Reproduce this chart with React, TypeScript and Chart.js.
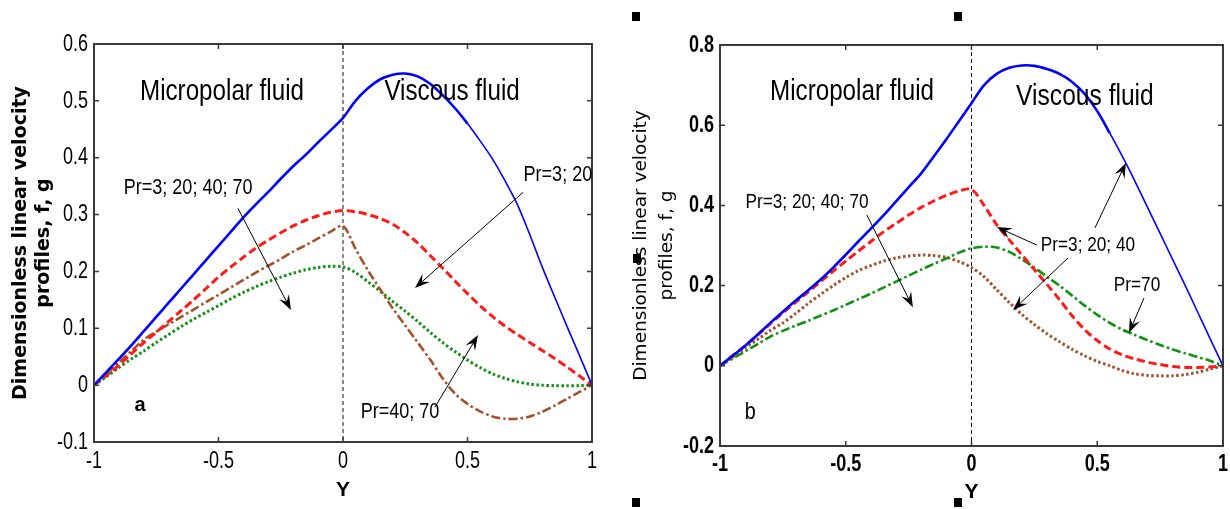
import React, { useEffect, useRef } from "react";
import { Chart, registerables } from "chart.js";

Chart.register(...registerables);

// ---------- data ----------
const X_GRID = [
  -1, -0.95, -0.9, -0.85, -0.8, -0.75, -0.7, -0.65, -0.6, -0.55, -0.5, -0.45, -0.4, -0.35, -0.3, -0.25, -0.2, -0.15, -0.1, -0.05,
  0, 0.05, 0.1, 0.15, 0.2, 0.25, 0.3, 0.35, 0.4, 0.45, 0.5, 0.55, 0.6, 0.65, 0.7, 0.75, 0.8, 0.85, 0.9, 0.95, 1,
];

// Panel a
const A_BLUE = [
  0, 0.023, 0.046, 0.07, 0.095, 0.12, 0.145, 0.17, 0.195, 0.22, 0.245, 0.27, 0.295, 0.318, 0.34, 0.363, 0.385, 0.405, 0.427, 0.448,
  0.47, 0.5, 0.522, 0.538, 0.546, 0.548, 0.543, 0.53, 0.51, 0.487, 0.46, 0.43, 0.398, 0.36, 0.318, 0.265, 0.208, 0.155, 0.103, 0.052, 0,
];
const A_RED = [
  0, 0.017, 0.035, 0.055, 0.075, 0.093, 0.112, 0.131, 0.15, 0.17, 0.19, 0.208, 0.225, 0.241, 0.255, 0.268, 0.28, 0.29, 0.298, 0.304,
  0.307, 0.305, 0.3, 0.293, 0.283, 0.268, 0.25, 0.228, 0.206, 0.183, 0.161, 0.14, 0.121, 0.104, 0.089, 0.075, 0.061, 0.047, 0.032, 0.016, 0,
];
const A_BROWN = [
  0, 0.02, 0.04, 0.06, 0.08, 0.094, 0.107, 0.12, 0.133, 0.146, 0.159, 0.172, 0.185, 0.198, 0.21, 0.222, 0.235, 0.246, 0.258, 0.27,
  0.28, 0.24, 0.202, 0.168, 0.135, 0.105, 0.075, 0.045, 0.012, -0.015, -0.033, -0.046, -0.055, -0.059, -0.059, -0.055, -0.047, -0.036, -0.024, -0.012, 0,
];
const A_GREEN = [
  0, 0.015, 0.031, 0.046, 0.06, 0.075, 0.089, 0.103, 0.116, 0.128, 0.14, 0.152, 0.163, 0.173, 0.182, 0.19, 0.197, 0.203, 0.207, 0.209,
  0.208, 0.198, 0.182, 0.165, 0.147, 0.13, 0.112, 0.093, 0.075, 0.059, 0.044, 0.031, 0.02, 0.012, 0.006, 0.002, 0, -0.001, -0.001, -0.001, 0,
];

// Panel b
const B_BLUE = [
  0, 0.025, 0.05, 0.078, 0.107, 0.135, 0.162, 0.188, 0.215, 0.245, 0.277, 0.31, 0.342, 0.375, 0.41, 0.445, 0.48, 0.522, 0.565, 0.61,
  0.655, 0.7, 0.728, 0.743, 0.749, 0.748, 0.74, 0.728, 0.708, 0.678, 0.635, 0.58, 0.522, 0.46, 0.395, 0.33, 0.265, 0.2, 0.133, 0.066, 0,
];
const B_RED = [
  0, 0.025, 0.05, 0.077, 0.105, 0.132, 0.158, 0.184, 0.21, 0.236, 0.261, 0.286, 0.31, 0.334, 0.355, 0.376, 0.395, 0.411, 0.425, 0.436,
  0.44, 0.4, 0.352, 0.314, 0.277, 0.24, 0.203, 0.165, 0.125, 0.09, 0.063, 0.042, 0.027, 0.017, 0.009, 0.003, -0.002, -0.004, -0.004, -0.003, 0,
];
const B_GREEN = [
  0, 0.018, 0.036, 0.054, 0.073, 0.087, 0.1, 0.112, 0.125, 0.138, 0.152, 0.166, 0.18, 0.195, 0.21, 0.225, 0.24, 0.254, 0.268, 0.282,
  0.293, 0.297, 0.295, 0.284, 0.266, 0.245, 0.222, 0.2, 0.175, 0.15, 0.127, 0.107, 0.09, 0.077, 0.064, 0.052, 0.041, 0.031, 0.022, 0.012, 0,
];
const B_BROWN = [
  0, 0.022, 0.045, 0.066, 0.088, 0.107, 0.13, 0.155, 0.178, 0.2, 0.22, 0.237, 0.25, 0.261, 0.269, 0.274, 0.276, 0.275, 0.27, 0.26,
  0.245, 0.222, 0.19, 0.158, 0.128, 0.103, 0.08, 0.06, 0.041, 0.025, 0.011, 0.0, -0.012, -0.02, -0.024, -0.025, -0.025, -0.022, -0.016, -0.008, 0,
];

const X_TITLE = "Y";
const Y_TITLE = ["Dimensionless linear velocity", "profiles, f, g"];

// annotations (data coordinates)
const A_TEXTS = [
  { text: "Micropolar fluid", x: -0.486, y: 0.515, size: 29.5, bold: false },
  { text: "Viscous fluid", x: 0.438, y: 0.515, size: 29.5, bold: false },
  { text: "Pr=3; 20; 40; 70", x: -0.622, y: 0.346, size: 22, bold: false },
  { text: "Pr=3; 20", x: 0.863, y: 0.369, size: 22, bold: false },
  { text: "Pr=40; 70", x: 0.229, y: -0.047, size: 22, bold: false },
  { text: "a", x: -0.815, y: -0.035, size: 20, bold: true, wide: true },
];
const A_ARROWS = [
  [-0.422, 0.311, -0.209, 0.132],
  [0.723, 0.339, 0.289, 0.171],
  [0.369, -0.039, 0.542, 0.088],
];
const B_TEXTS = [
  { text: "Micropolar fluid", x: -0.475, y: 0.683, size: 29.5, bold: false },
  { text: "Viscous fluid", x: 0.451, y: 0.67, size: 30, bold: false },
  { text: "Pr=3; 20; 40; 70", x: -0.654, y: 0.408, size: 21, bold: false },
  { text: "Pr=3; 20; 40", x: 0.463, y: 0.301, size: 21, bold: false },
  { text: "Pr=70", x: 0.658, y: 0.201, size: 21, bold: false },
  { text: "b", x: -0.88, y: -0.115, size: 24, bold: false },
];
const B_ARROWS = [
  [-0.416, 0.376, -0.233, 0.146],
  [0.26, 0.301, 0.101, 0.346],
  [0.384, 0.269, 0.165, 0.139],
  [0.491, 0.344, 0.614, 0.506],
  [0.686, 0.169, 0.626, 0.082],
];

const SANS = '"Liberation Sans", Arial, sans-serif';
const CONDENSE = 0.82; // horizontal squeeze to mimic a narrow face

const BLUE = "#0000ff";
const RED = "#ff1a1a";
const GREEN = "#119111";
const BROWN = "#a2522a";

function fmt(v: number) {
  const r = Math.round(v * 100) / 100;
  return r === 0 ? "0" : String(r);
}

function condensedText(
  ctx: CanvasRenderingContext2D,
  text: string,
  x: number,
  y: number,
  align: CanvasTextAlign,
  sx: number,
  sy: number
) {
  ctx.save();
  ctx.translate(x, y);
  ctx.scale(sx, sy);
  ctx.textAlign = align;
  ctx.textBaseline = "middle";
  ctx.fillText(text, 0, 0);
  ctx.restore();
}

function drawArrow(ctx: CanvasRenderingContext2D, x1: number, y1: number, x2: number, y2: number) {
  const ang = Math.atan2(y2 - y1, x2 - x1);
  const c = Math.cos(ang);
  const s = Math.sin(ang);
  const L = 15;
  const W = 5.5;
  ctx.beginPath();
  ctx.moveTo(x1, y1);
  ctx.lineTo(x2 - c * L * 0.6, y2 - s * L * 0.6);
  ctx.lineWidth = 1;
  ctx.strokeStyle = "#000";
  ctx.stroke();
  ctx.beginPath();
  ctx.moveTo(x2, y2);
  ctx.lineTo(x2 - c * L - s * W, y2 - s * L + c * W);
  ctx.lineTo(x2 - c * L * 0.62, y2 - s * L * 0.62);
  ctx.lineTo(x2 - c * L + s * W, y2 - s * L - c * W);
  ctx.closePath();
  ctx.fillStyle = "#000";
  ctx.fill();
}

function makeDecor(p: any) {
  return {
    id: "decor",
    beforeDatasetsDraw(chart: any) {
      const { ctx, chartArea: a, scales } = chart;
      const px = scales.x.getPixelForValue(0);
      ctx.save();
      ctx.strokeStyle = "#111";
      ctx.lineWidth = 1;
      ctx.setLineDash([4, 3]);
      ctx.beginPath();
      ctx.moveTo(px, a.top);
      ctx.lineTo(px, a.bottom);
      ctx.stroke();
      ctx.restore();
    },
    afterDatasetsDraw(chart: any) {
      const { ctx, chartArea: a, scales } = chart;
      const xs = scales.x;
      const ys = scales.y;
      ctx.save();
      // box
      ctx.strokeStyle = "#3a3a3a";
      ctx.lineWidth = 2;
      ctx.strokeRect(a.left, a.top, a.right - a.left, a.bottom - a.top);
      // inner ticks
      ctx.lineWidth = 1.5;
      const TL = 5;
      xs.ticks.forEach((t: any) => {
        const q = xs.getPixelForValue(t.value);
        if (q <= a.left + 1 || q >= a.right - 1) return;
        ctx.beginPath();
        ctx.moveTo(q, a.bottom);
        ctx.lineTo(q, a.bottom - TL);
        ctx.moveTo(q, a.top);
        ctx.lineTo(q, a.top + TL);
        ctx.stroke();
      });
      ys.ticks.forEach((t: any) => {
        const q = ys.getPixelForValue(t.value);
        if (q <= a.top + 1 || q >= a.bottom - 1) return;
        ctx.beginPath();
        ctx.moveTo(a.left, q);
        ctx.lineTo(a.left + TL, q);
        ctx.moveTo(a.right, q);
        ctx.lineTo(a.right - TL, q);
        ctx.stroke();
      });
      // tick labels (narrow)
      ctx.fillStyle = "#000";
      ctx.font = `${p.tickBold ? "bold " : ""}22px ${SANS}`;
      xs.ticks.forEach((t: any) => {
        condensedText(ctx, fmt(t.value), xs.getPixelForValue(t.value), a.bottom + p.xLabelOffset, "center", CONDENSE, 1.1);
      });
      ys.ticks.forEach((t: any) => {
        condensedText(ctx, fmt(t.value), a.left - 6, ys.getPixelForValue(t.value), "right", CONDENSE, 1.1);
      });
      // annotation texts
      p.texts.forEach((t: any) => {
        ctx.font = `${t.bold ? "bold " : ""}${t.size}px ${SANS}`;
        condensedText(
          ctx,
          t.text,
          xs.getPixelForValue(t.x),
          ys.getPixelForValue(t.y),
          "center",
          t.wide ? 1 : CONDENSE,
          1
        );
      });
      // arrows
      p.arrows.forEach((r: number[]) => {
        drawArrow(ctx, xs.getPixelForValue(r[0]), ys.getPixelForValue(r[1]), xs.getPixelForValue(r[2]), ys.getPixelForValue(r[3]));
      });
      ctx.restore();
    },
  };
}

type Series = { values: number[]; color: string; dash: number[]; width: number; thinFrom?: number };

function buildConfig(p: any) {
  const datasets = p.series.map((s: Series) => ({
    data: X_GRID.map((x, i) => ({ x, y: s.values[i] })),
    borderColor: s.color,
    borderWidth: s.width,
    borderDash: s.dash,
    borderCapStyle: "butt",
    borderJoinStyle: "round",
    pointRadius: 0,
    tension: 0.3,
    fill: false,
    segment:
      s.thinFrom !== undefined
        ? { borderWidth: (c: any) => (c.p0.parsed.x >= (s.thinFrom as number) ? 1.6 : s.width) }
        : undefined,
  }));
  return {
    type: "line",
    data: { datasets },
    options: {
      responsive: false,
      animation: false,
      events: [],
      layout: { padding: { left: 0, top: p.padTop, right: p.padRight, bottom: 0 } },
      plugins: { legend: { display: false }, tooltip: { enabled: false } },
      scales: {
        x: {
          type: "linear",
          min: -1,
          max: 1,
          grid: { display: false },
          border: { display: false },
          ticks: { stepSize: 0.5, display: false },
          title: {
            display: true,
            text: X_TITLE,
            color: "#000",
            font: { family: SANS, size: 21, weight: "bold", lineHeight: 1.2 },
            padding: { top: 0, bottom: p.xTitlePad },
          },
          afterFit: (sc: any) => {
            sc.height = p.xHeight;
          },
        },
        y: {
          type: "linear",
          min: p.yMin,
          max: p.yMax,
          grid: { display: false },
          border: { display: false },
          ticks: { stepSize: p.yStep, display: false },
          title: {
            display: true,
            text: Y_TITLE,
            color: "#000",
            font: p.yTitleFont,
            padding: { top: p.yTitlePad, bottom: 0 },
          },
          afterFit: (sc: any) => {
            sc.width = p.yWidth;
          },
        },
      },
    },
    plugins: [makeDecor(p)],
  };
}

const PANEL_A = {
  series: [
    { values: A_BLUE, color: BLUE, dash: [], width: 2.6, thinFrom: 0.5 },
    { values: A_RED, color: RED, dash: [8, 4], width: 3 },
    { values: A_BROWN, color: BROWN, dash: [9, 3, 2.5, 3], width: 2.6 },
    { values: A_GREEN, color: GREEN, dash: [2.5, 2.5], width: 3 },
  ],
  yMin: -0.1,
  yMax: 0.6,
  yStep: 0.1,
  padTop: 44,
  padRight: 23,
  yWidth: 94,
  xHeight: 67,
  xLabelOffset: 19,
  tickBold: false,
  xTitlePad: 6,
  yTitleFont: { family: '"DejaVu Sans", sans-serif', size: 19, weight: "bold", lineHeight: "23px" },
  yTitlePad: 10,
  texts: A_TEXTS,
  arrows: A_ARROWS,
};

const PANEL_B = {
  series: [
    { values: B_BLUE, color: BLUE, dash: [], width: 2.6, thinFrom: 0.55 },
    { values: B_RED, color: RED, dash: [8, 4], width: 3 },
    { values: B_GREEN, color: GREEN, dash: [9, 3, 2.5, 3], width: 2.6 },
    { values: B_BROWN, color: BROWN, dash: [2.5, 2.5], width: 3 },
  ],
  yMin: -0.2,
  yMax: 0.8,
  yStep: 0.2,
  padTop: 45,
  padRight: 7,
  yWidth: 105,
  xHeight: 63,
  xLabelOffset: 18,
  tickBold: true,
  xTitlePad: 4,
  yTitleFont: { family: '"DejaVu Sans", sans-serif', size: 18.5, weight: "normal", lineHeight: "26px" },
  yTitlePad: 13,
  texts: B_TEXTS,
  arrows: B_ARROWS,
};

function Panel({ spec, left }: { spec: any; left: number }) {
  const ref = useRef<HTMLCanvasElement | null>(null);
  useEffect(() => {
    if (!ref.current) return;
    const chart = new Chart(ref.current, buildConfig(spec) as any);
    return () => chart.destroy();
  }, [spec]);
  return (
    <canvas
      ref={ref}
      width={615}
      height={509}
      style={{ position: "absolute", left, top: 0, width: 615, height: 509 }}
    />
  );
}

const SQUARES = [
  [632, 12],
  [954, 12],
  [633, 254],
  [632, 498],
  [954, 498],
];

export default function App() {
  useEffect(() => {
    document.body.style.margin = "0";
    document.body.style.background = "#fff";
  }, []);
  return (
    <div style={{ position: "relative", width: 1230, height: 509, background: "#fff", overflow: "hidden" }}>
      <Panel spec={PANEL_A} left={0} />
      <Panel spec={PANEL_B} left={615} />
      {SQUARES.map(([x, y], i) => (
        <div key={i} style={{ position: "absolute", left: x, top: y, width: 8, height: 9, background: "#000" }} />
      ))}
    </div>
  );
}
